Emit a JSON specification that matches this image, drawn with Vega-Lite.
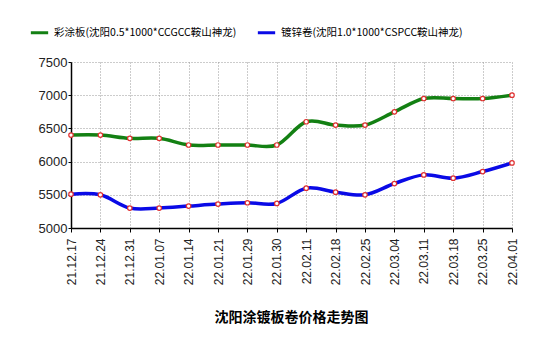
{
  "$schema": "https://vega.github.io/schema/vega-lite/v6.json",
  "width": 441,
  "height": 166,
  "autosize": "none",
  "padding": {"left": 71, "top": 62, "right": 39, "bottom": 123},
  "background": "white",
  "title": {
    "text": "沈阳涂镀板卷价格走势图",
    "orient": "bottom",
    "anchor": "middle",
    "font": "Noto Sans CJK SC",
    "fontSize": 14,
    "fontWeight": "bold",
    "color": "#000000",
    "offset": 26
  },
  "data": {
    "values": [
      {"date": "21.12.17", "series": "彩涂板(沈阳0.5*1000*CCGCC鞍山神龙)", "price": 6400},
      {"date": "21.12.24", "series": "彩涂板(沈阳0.5*1000*CCGCC鞍山神龙)", "price": 6400},
      {"date": "21.12.31", "series": "彩涂板(沈阳0.5*1000*CCGCC鞍山神龙)", "price": 6350},
      {"date": "22.01.07", "series": "彩涂板(沈阳0.5*1000*CCGCC鞍山神龙)", "price": 6350},
      {"date": "22.01.14", "series": "彩涂板(沈阳0.5*1000*CCGCC鞍山神龙)", "price": 6250},
      {"date": "22.01.21", "series": "彩涂板(沈阳0.5*1000*CCGCC鞍山神龙)", "price": 6250},
      {"date": "22.01.29", "series": "彩涂板(沈阳0.5*1000*CCGCC鞍山神龙)", "price": 6250},
      {"date": "22.01.30", "series": "彩涂板(沈阳0.5*1000*CCGCC鞍山神龙)", "price": 6250},
      {"date": "22.02.11", "series": "彩涂板(沈阳0.5*1000*CCGCC鞍山神龙)", "price": 6600},
      {"date": "22.02.18", "series": "彩涂板(沈阳0.5*1000*CCGCC鞍山神龙)", "price": 6550},
      {"date": "22.02.25", "series": "彩涂板(沈阳0.5*1000*CCGCC鞍山神龙)", "price": 6550},
      {"date": "22.03.04", "series": "彩涂板(沈阳0.5*1000*CCGCC鞍山神龙)", "price": 6750},
      {"date": "22.03.11", "series": "彩涂板(沈阳0.5*1000*CCGCC鞍山神龙)", "price": 6950},
      {"date": "22.03.18", "series": "彩涂板(沈阳0.5*1000*CCGCC鞍山神龙)", "price": 6950},
      {"date": "22.03.25", "series": "彩涂板(沈阳0.5*1000*CCGCC鞍山神龙)", "price": 6950},
      {"date": "22.04.01", "series": "彩涂板(沈阳0.5*1000*CCGCC鞍山神龙)", "price": 7000},
      {"date": "21.12.17", "series": "镀锌卷(沈阳1.0*1000*CSPCC鞍山神龙)", "price": 5510},
      {"date": "21.12.24", "series": "镀锌卷(沈阳1.0*1000*CSPCC鞍山神龙)", "price": 5500},
      {"date": "21.12.31", "series": "镀锌卷(沈阳1.0*1000*CSPCC鞍山神龙)", "price": 5300},
      {"date": "22.01.07", "series": "镀锌卷(沈阳1.0*1000*CSPCC鞍山神龙)", "price": 5300},
      {"date": "22.01.14", "series": "镀锌卷(沈阳1.0*1000*CSPCC鞍山神龙)", "price": 5330},
      {"date": "22.01.21", "series": "镀锌卷(沈阳1.0*1000*CSPCC鞍山神龙)", "price": 5360},
      {"date": "22.01.29", "series": "镀锌卷(沈阳1.0*1000*CSPCC鞍山神龙)", "price": 5380},
      {"date": "22.01.30", "series": "镀锌卷(沈阳1.0*1000*CSPCC鞍山神龙)", "price": 5370},
      {"date": "22.02.11", "series": "镀锌卷(沈阳1.0*1000*CSPCC鞍山神龙)", "price": 5600},
      {"date": "22.02.18", "series": "镀锌卷(沈阳1.0*1000*CSPCC鞍山神龙)", "price": 5540},
      {"date": "22.02.25", "series": "镀锌卷(沈阳1.0*1000*CSPCC鞍山神龙)", "price": 5500},
      {"date": "22.03.04", "series": "镀锌卷(沈阳1.0*1000*CSPCC鞍山神龙)", "price": 5670},
      {"date": "22.03.11", "series": "镀锌卷(沈阳1.0*1000*CSPCC鞍山神龙)", "price": 5800},
      {"date": "22.03.18", "series": "镀锌卷(沈阳1.0*1000*CSPCC鞍山神龙)", "price": 5750},
      {"date": "22.03.25", "series": "镀锌卷(沈阳1.0*1000*CSPCC鞍山神龙)", "price": 5850},
      {"date": "22.04.01", "series": "镀锌卷(沈阳1.0*1000*CSPCC鞍山神龙)", "price": 5980}
    ]
  },
  "encoding": {
    "x": {
      "field": "date",
      "type": "ordinal",
      "scale": {"type": "point", "padding": 0},
      "axis": {
        "title": null,
        "labelAngle": 270,
        "labelAlign": "right",
        "labelBaseline": "middle",
        "labelFont": "Liberation Sans",
        "labelFontSize": 12,
        "labelColor": "#222222",
        "labelPadding": 6,
        "domainColor": "#000000",
        "domainWidth": 1.5,
        "tickColor": "#000000",
        "tickSize": 4,
        "grid": true,
        "gridColor": "#999999",
        "gridDash": [1, 2],
        "gridWidth": 1
      }
    },
    "y": {
      "field": "price",
      "type": "quantitative",
      "scale": {"domain": [5000, 7500], "nice": false, "zero": false},
      "axis": {
        "title": null,
        "values": [5000, 5500, 6000, 6500, 7000, 7500],
        "format": "d",
        "labelFont": "Liberation Sans",
        "labelFontSize": 13,
        "labelColor": "#222222",
        "labelPadding": 1,
        "domainColor": "#000000",
        "domainWidth": 1.5,
        "tickColor": "#000000",
        "tickSize": 3,
        "grid": true,
        "gridColor": "#999999",
        "gridDash": [1, 2],
        "gridWidth": 1
      }
    },
    "color": {
      "field": "series",
      "type": "nominal",
      "scale": {
        "domain": ["彩涂板(沈阳0.5*1000*CCGCC鞍山神龙)", "镀锌卷(沈阳1.0*1000*CSPCC鞍山神龙)"],
        "range": ["#138013", "#0a0ae6"]
      },
      "legend": {
        "title": null,
        "orient": "none",
        "legendX": -42,
        "legendY": -40,
        "direction": "horizontal",
        "symbolType": "stroke",
        "symbolStrokeWidth": 3,
        "symbolSize": 300,
        "labelFont": "Noto Sans CJK SC",
        "labelFontSize": 10.5,
        "labelColor": "#000000",
        "labelOffset": 4,
        "columnPadding": 14,
        "labelLimit": 300
      }
    }
  },
  "layer": [
    {
      "mark": {"type": "line", "interpolate": "cardinal", "strokeWidth": 3.5}
    },
    {
      "mark": {"type": "point", "shape": "circle", "size": 20, "filled": true, "fill": "white", "stroke": "#e03030", "strokeWidth": 1.2, "opacity": 1},
      "encoding": {"color": {"value": "#e03030"}}
    }
  ],
  "config": {
    "view": {"stroke": null}
  }
}
